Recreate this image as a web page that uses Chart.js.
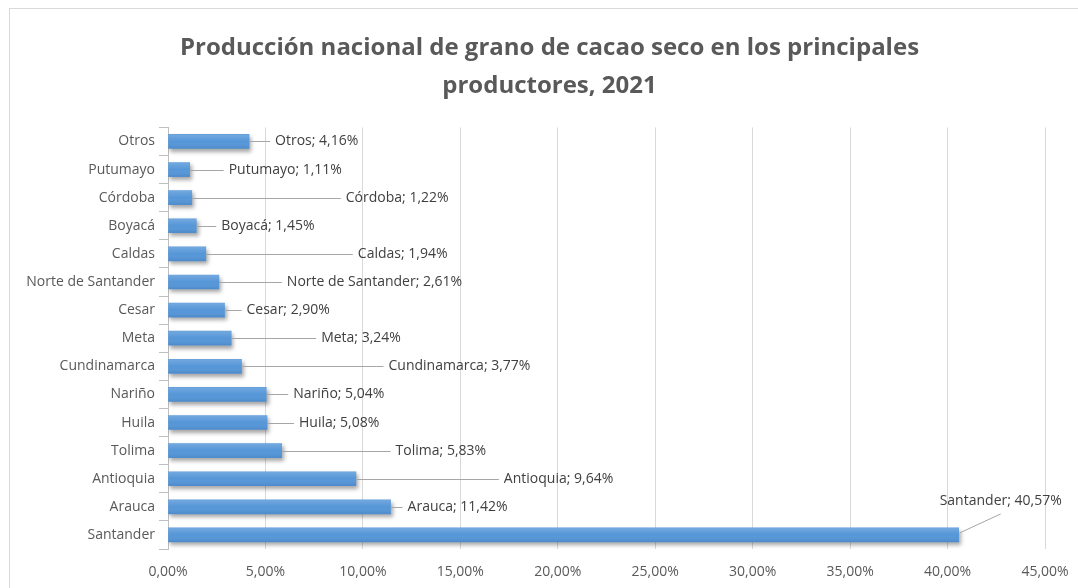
<!DOCTYPE html>
<html lang="es">
<head>
<meta charset="utf-8">
<title>Producción nacional de grano de cacao seco, 2021</title>
<script src="https://cdn.jsdelivr.net/npm/chart.js@4.4.1/dist/chart.umd.min.js"></script>
<style>
  html, body { margin: 0; padding: 0; background: #ffffff; }
  #wrap { width: 1078px; height: 588px; }
</style>
</head>
<body>
<div id="wrap"><canvas id="cacaoChart" width="1078" height="588"></canvas></div>
<script>
  // Datos (orden de Excel: primera categoría abajo)
  const departamentos = [
    "Santander", "Arauca", "Antioquia", "Tolima", "Huila", "Nariño",
    "Cundinamarca", "Meta", "Cesar", "Norte de Santander", "Caldas",
    "Boyacá", "Córdoba", "Putumayo", "Otros"
  ];
  const participacion = [
    40.57, 11.42, 9.64, 5.83, 5.08, 5.04,
    3.77, 3.24, 2.90, 2.61, 1.94,
    1.45, 1.22, 1.11, 4.16
  ];
  const tituloLineas = [
    "Producción nacional de grano de cacao seco en los principales",
    "productores, 2021"
  ];
  const ejeMin = 0;
  const ejeMax = 45;
  const ejePaso = 5;

  // Colocación de las etiquetas de datos (px respecto al final de la barra)
  const etiquetaDx = [-19, 17, 148, 114, 32, 27, 147, 90, 22, 68, 152, 25, 154, 39, 26];
  const etiquetaDy = [-34, 0, 0, 0, 0, 0, 0, 0, 0, 0, 0, 0, 0, 0, 0];

  const FONT = "'Open Sans', sans-serif";
  const GRIS_TEXTO = "#595959";

  function pct(v) {
    return v.toFixed(2).replace(".", ",") + "%";
  }

  const marco = {
    id: "marco",
    beforeDraw(chart) {
      const c = chart.ctx;
      c.save();
      c.fillStyle = "#ffffff";
      c.fillRect(0, 0, chart.width, chart.height);
      c.strokeStyle = "#d9d9d9";
      c.lineWidth = 1;
      c.strokeRect(9.5, 8.5, 1200, 700);
      c.restore();
    }
  };

  const sombra = {
    id: "sombra",
    beforeDatasetsDraw(chart) {
      const c = chart.ctx;
      c.save();
      c.shadowColor = "rgba(0, 0, 0, 0.35)";
      c.shadowBlur = 4;
      c.shadowOffsetX = 2;
      c.shadowOffsetY = 3;
    },
    afterDatasetsDraw(chart) {
      chart.ctx.restore();
      // brillo superior / sombra inferior de cada barra
      const c = chart.ctx;
      chart.getDatasetMeta(0).data.forEach((bar) => {
        const { x, y, base, height } = bar.getProps(["x", "y", "base", "height"], true);
        const top = y - height / 2;
        const g = c.createLinearGradient(0, top, 0, top + height);
        g.addColorStop(0, "rgba(255, 255, 255, 0.18)");
        g.addColorStop(0.5, "rgba(255, 255, 255, 0)");
        g.addColorStop(1, "rgba(0, 40, 100, 0.12)");
        c.fillStyle = g;
        c.fillRect(base, top, x - base, height);
      });
    }
  };

  const etiquetas = {
    id: "etiquetas",
    afterDatasetsDraw(chart) {
      const c = chart.ctx;
      const meta = chart.getDatasetMeta(0);
      c.save();
      c.font = "14px " + FONT;
      c.textBaseline = "middle";
      c.textAlign = "left";
      meta.data.forEach((bar, i) => {
        const texto = departamentos[i] + "; " + pct(participacion[i]);
        const w = c.measureText(texto).width;
        const tx = bar.x + etiquetaDx[i];
        const ty = bar.y + etiquetaDy[i];
        c.strokeStyle = "#a6a6a6";
        c.lineWidth = 1;
        c.beginPath();
        if (etiquetaDy[i] === 0) {
          c.moveTo(bar.x, Math.round(bar.y) + 0.5);
          c.lineTo(tx - 5, Math.round(bar.y) + 0.5);
        } else {
          c.moveTo(bar.x + 1, bar.y - 2);
          c.lineTo(tx + w * 0.5, ty + 13);
        }
        c.stroke();
        c.fillStyle = "#404040";
        c.fillText(texto, tx, ty);
      });
      c.restore();
    }
  };

  const ctx = document.getElementById("cacaoChart").getContext("2d");
  new Chart(ctx, {
    type: "bar",
    data: {
      labels: departamentos,
      datasets: [{
        data: participacion,
        backgroundColor: "#5596d8",
        borderWidth: 0,
        barThickness: 14
      }]
    },
    options: {
      indexAxis: "y",
      responsive: false,
      animation: false,
      layout: { padding: { left: 21, right: 0, top: 0, bottom: 0 } },
      plugins: {
        legend: { display: false },
        tooltip: { enabled: false },
        title: {
          display: true,
          text: tituloLineas,
          color: GRIS_TEXTO,
          font: { family: FONT, size: 24, weight: "bold", lineHeight: 1.55 },
          padding: { top: 30, bottom: 23 }
        }
      },
      scales: {
        x: {
          min: ejeMin,
          max: ejeMax,
          ticks: {
            stepSize: ejePaso,
            color: GRIS_TEXTO,
            font: { family: FONT, size: 14 },
            padding: 15,
            callback: (v) => pct(v)
          },
          grid: { color: "#d9d9d9", drawTicks: false },
          border: { display: false },
          afterFit(scale) {
            scale.paddingRight = 33;
            scale.height = 39;
          }
        },
        y: {
          reverse: true,
          ticks: {
            color: GRIS_TEXTO,
            font: { family: FONT, size: 14 },
            padding: 4
          },
          grid: {
            drawOnChartArea: false,
            drawTicks: true,
            tickLength: 9,
            color: "#bfbfbf",
            offset: true
          },
          border: { color: "#bfbfbf" },
          afterFit(scale) {
            scale.width = 147;
          }
        }
      }
    },
    plugins: [marco, sombra, etiquetas]
  });
</script>
</body>
</html>
